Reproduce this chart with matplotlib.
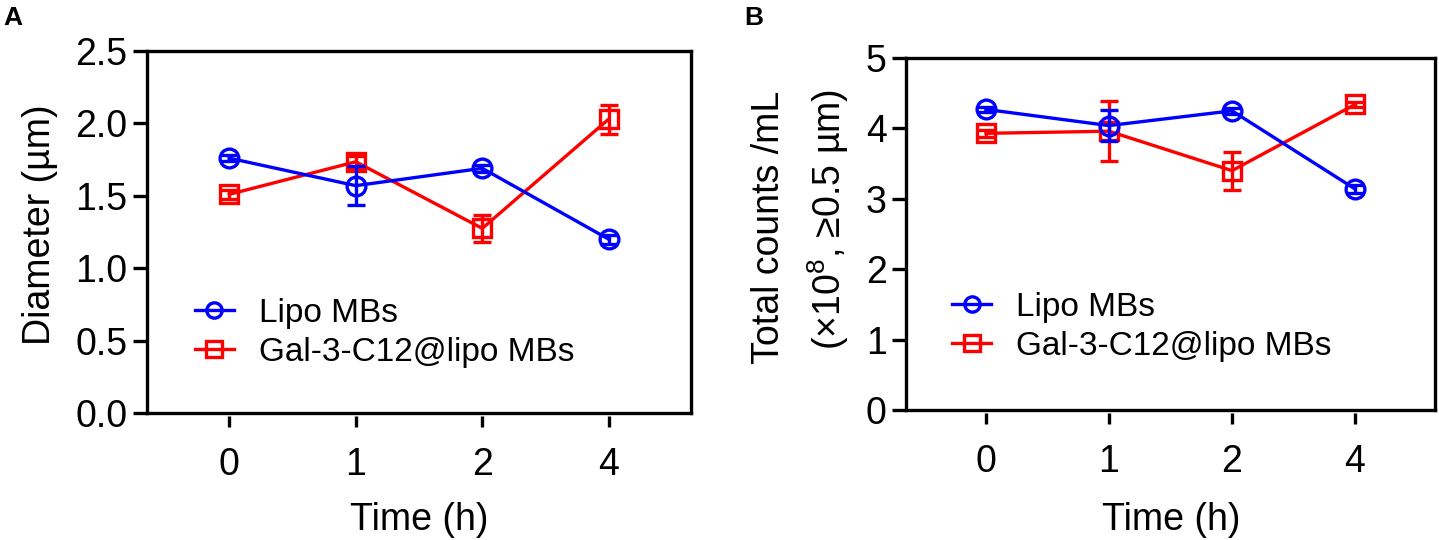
import matplotlib
matplotlib.use("Agg")
import matplotlib.pyplot as plt
from matplotlib.lines import Line2D
import numpy as np

plt.rcParams['font.family'] = ['Liberation Sans', 'DejaVu Sans']
plt.rcParams['mathtext.fontset'] = 'custom'
plt.rcParams['mathtext.rm'] = 'Liberation Sans'
plt.rcParams['mathtext.it'] = 'Liberation Sans'

# ---- data ----
time_labels = ['0', '1', '2', '4']
series_names = ['Lipo MBs', 'Gal-3-C12@lipo MBs']

diam_lipo = [1.76, 1.57, 1.69, 1.20]
diam_lipo_err = [0.02, 0.135, 0.025, 0.03]
diam_gal = [1.51, 1.735, 1.275, 2.03]
diam_gal_err = [0.03, 0.04, 0.095, 0.10]

count_lipo = [4.27, 4.04, 4.25, 3.14]
count_lipo_err = [0.03, 0.22, 0.04, 0.06]
count_gal = [3.93, 3.96, 3.40, 4.34]
count_gal_err = [0.05, 0.43, 0.27, 0.04]

yticksA = [0.0, 0.5, 1.0, 1.5, 2.0, 2.5]
yticksB = [0, 1, 2, 3, 4, 5]

W, H = 1439, 540
fig = plt.figure(figsize=(W / 100, H / 100), dpi=100)

LW = 2.4
TICKFS = 27
LEGFS = 24
BLUE = '#0000ff'
RED = '#ff0000'


def fx(px):
    return px / W


def fy(py):
    return 1 - py / H


def make_panel(rect, lipo, lipo_err, gal, gal_err, ylim, yticks, yfmt, leg_anchor):
    ax = fig.add_axes(rect)
    x = np.arange(len(time_labels))
    ax.errorbar(x, gal, yerr=gal_err, color=RED, lw=LW, marker='s', ms=13.5,
                mfc='none', mec=RED, mew=LW, capsize=6.7, capthick=LW,
                elinewidth=LW, zorder=3)
    ax.errorbar(x, lipo, yerr=lipo_err, color=BLUE, lw=LW, marker='o', ms=13.5,
                mfc='none', mec=BLUE, mew=LW, capsize=6.7, capthick=LW,
                elinewidth=LW, zorder=4)
    ax.set_xlim(-0.65, 3.65)
    ax.set_ylim(*ylim)
    ax.set_yticks(yticks)
    ax.set_yticklabels([yfmt.format(v) for v in yticks])
    ax.set_xticks(x)
    ax.set_xticklabels(time_labels)
    for s in ax.spines.values():
        s.set_linewidth(LW)
    ax.spines['bottom'].set_position(('outward', 2.5))
    ax.spines['bottom'].set_visible(False)
    ax.axhline(ylim[0], color='k', lw=LW, clip_on=False, zorder=5)
    ax.tick_params(axis='y', direction='out', length=10.4, width=LW, pad=3.6,
                   labelsize=TICKFS)
    ax.tick_params(axis='x', direction='out', length=8, width=LW, pad=14,
                   labelsize=TICKFS)
    handles = [
        Line2D([], [], color=BLUE, lw=LW, marker='o', ms=11, mfc='none', mec=BLUE, mew=LW),
        Line2D([], [], color=RED, lw=LW, marker='s', ms=11, mfc='none', mec=RED, mew=LW),
    ]
    ax.legend(handles, series_names, loc='center left', bbox_to_anchor=leg_anchor,
              frameon=False, fontsize=LEGFS, handlelength=1.17, handletextpad=0.74,
              labelspacing=0.25, borderpad=0, borderaxespad=0)
    return ax


axA = make_panel([fx(147), fy(413), fx(691 - 147), (413 - 51) / H],
                 diam_lipo, diam_lipo_err, diam_gal, diam_gal_err,
                 (0, 2.5), yticksA, '{:.1f}', (0.088, 0.221))
axB = make_panel([fx(906), fy(410), fx(1435 - 906), (410 - 58) / H],
                 count_lipo, count_lipo_err, count_gal, count_gal_err,
                 (0, 5), yticksB, '{:d}', (0.087, 0.236))

# axis labels
fig.text(fx(419), fy(530), 'Time (h)', ha='center', va='baseline', fontsize=TICKFS)
fig.text(fx(1171), fy(530), 'Time (h)', ha='center', va='baseline', fontsize=TICKFS)
fig.text(fx(40), fy(225), 'Diameter (µm)', rotation=90, ha='center', va='center',
         fontsize=TICKFS)
fig.text(fx(769), fy(227), 'Total counts /mL', rotation=90, ha='center', va='center',
         fontsize=TICKFS)
fig.text(fx(828), fy(219), '(×10$^{8}$, ≥0.5 µm)', rotation=90, ha='center',
         va='center', fontsize=TICKFS)

# panel letters
fig.text(fx(3), fy(18), 'A', ha='left', va='center', fontsize=19, fontweight='bold')
fig.text(fx(744), fy(18), 'B', ha='left', va='center', fontsize=19, fontweight='bold')

fig.savefig('out.png', dpi=100)
